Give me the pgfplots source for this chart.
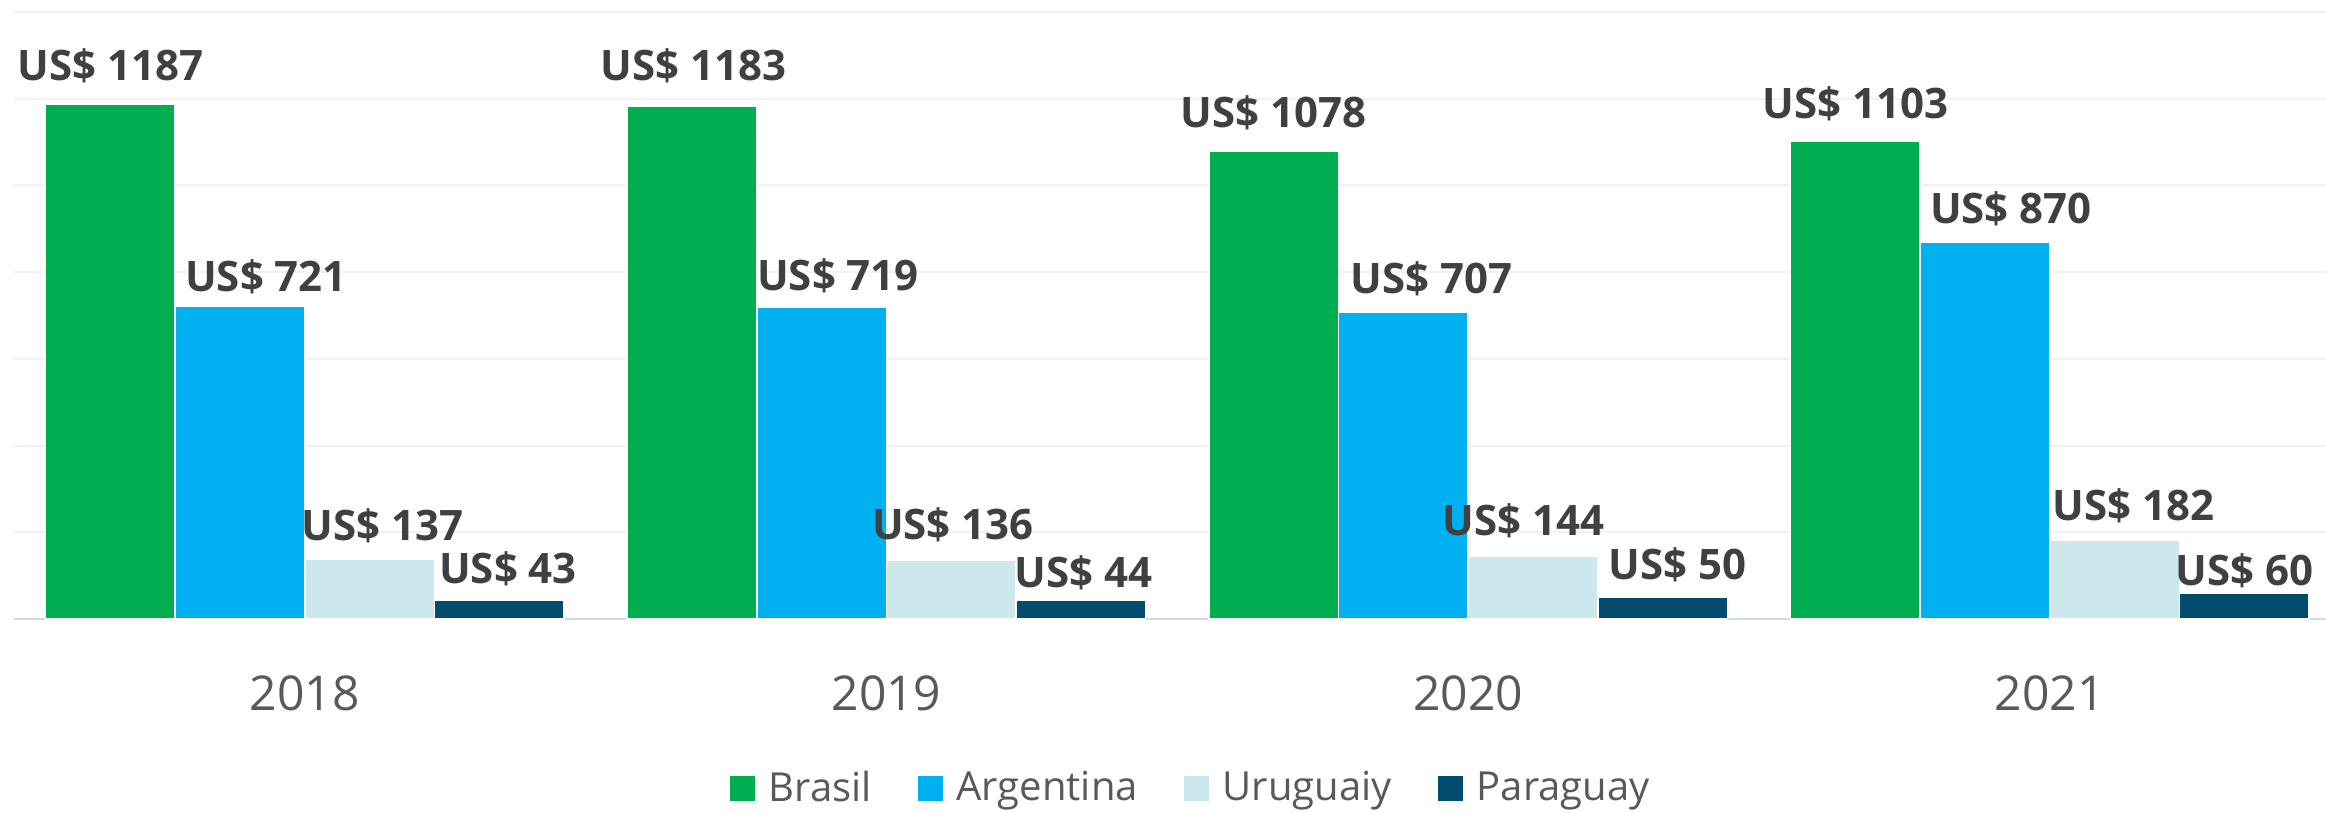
\documentclass[border=0pt]{standalone}
\usepackage{fontspec}
\setmainfont{Open Sans}
\usepackage{pgfplots}
\usepackage{pgfplotstable}
\pgfplotsset{compat=1.18}
\definecolor{brasilc}{HTML}{00AE50}
\definecolor{argc}{HTML}{00B0F0}
\definecolor{uruc}{HTML}{CCE8ED}
\definecolor{parc}{HTML}{024C6F}
\definecolor{labelc}{HTML}{404040}
\definecolor{yearc}{HTML}{595959}
\definecolor{gridc}{HTML}{F2F2F2}
\definecolor{basec}{HTML}{D9D9D9}

% x = year index, y = value, dx/dy = label offset (pt)
\pgfplotstableread{
x y dx dy
0 1187 0 9.6
1 1183 0.4 10.0
2 1078 0 9.6
3 1103 0 9.3
}\tabbrasil
\pgfplotstableread{
x y dx dy
0 721 6.5 7.4
1 719 4.1 7.8
2 707 7.0 8.5
3 870 6.5 8.2
}\tabarg
\pgfplotstableread{
x y dx dy
0 137 3.2 8.5
1 136 0.4 8.9
2 144 -2.4 8.9
3 182 4.8 8.5
}\taburu
\pgfplotstableread{
x y dx dy
0 43 2.2 7.8
1 44 0.7 6.7
2 50 3.7 8.2
3 60 0 5.6
}\tabpar

\begin{document}
\begin{tikzpicture}
\useasboundingbox (-3.5pt,-48.5pt) rectangle (578pt,154.75pt);
\begin{axis}[
  at={(0,0)}, anchor=south west,
  scale only axis, width=578pt, height=151.75pt,
  xmin=-0.5, xmax=3.475, ymin=0, ymax=1400,
  enlargelimits=false, clip=false,
  ybar=0pt, bar width=32.4pt,
  axis line style={draw=none},
  major tick length=0pt,
  ytick={0,200,...,1400}, yticklabels={},
  ymajorgrids, grid style={draw=gridc, line width=0.5pt},
  extra y ticks={0}, extra y tick labels={},
  extra y tick style={grid style={draw=basec, line width=0.6pt}},
  xtick={0,1,2,3}, xticklabels={2018,2019,2020,2021},
  xticklabel style={font=\fontsize{12}{14}\selectfont, text=yearc, anchor=center, yshift=-18.5pt},
  point meta=explicit symbolic,
  visualization depends on={\thisrow{dx} \as \labeldx},
  visualization depends on={\thisrow{dy} \as \labeldy},
  nodes near coords={US\$ \pgfplotspointmeta},
  nodes near coords style={anchor=center, font=\bfseries\fontsize{10.5}{12}\selectfont, text=labelc, xshift=\labeldx pt, yshift=\labeldy pt},
  legend image code/.code={\fill[#1,draw=none] (0pt,-3.125pt) rectangle (6.25pt,3.125pt);},
  legend style={at={(0.5085,-0.280)}, anchor=center, legend columns=4, draw=none, fill=none,
    font=\fontsize{10}{12}\selectfont, text=yearc, nodes={inner sep=0pt},
    /tikz/every odd column/.append style={column sep=3.5pt},
    /tikz/every even column/.append style={column sep=11.5pt}},
]
\addplot[fill=brasilc, draw=white, line width=0.4pt] table[x=x, y=y, meta=y] {\tabbrasil};
\addplot[fill=argc, draw=white, line width=0.4pt] table[x=x, y=y, meta=y] {\tabarg};
\addplot[fill=uruc, draw=white, line width=0.4pt] table[x=x, y=y, meta=y] {\taburu};
\addplot[fill=parc, draw=white, line width=0.4pt] table[x=x, y=y, meta=y] {\tabpar};
\legend{Brasil, Argentina, Uruguaiy, Paraguay}
\end{axis}
\end{tikzpicture}
\end{document}
